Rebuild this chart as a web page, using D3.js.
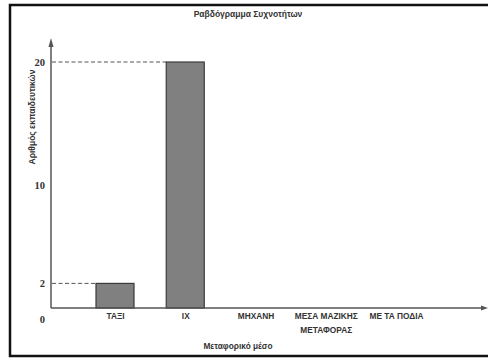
<!DOCTYPE html>
<html><head><meta charset="utf-8">
<script src="https://cdn.jsdelivr.net/npm/d3@7"></script>
<style>body{margin:0;background:#fff}svg{display:block}</style>
</head><body>
<svg id="c" width="488" height="360"></svg>
<script>
const categories = ["ΤΑΞΙ", "ΙΧ", "ΜΗΧΑΝΗ", "ΜΕΣΑ ΜΑΖΙΚΗΣ|ΜΕΤΑΦΟΡΑΣ", "ΜΕ ΤΑ ΠΟΔΙΑ"];
const values = [2, 20, 0, 0, 0];
const yTicks = [0, 2, 10, 20];
const title = "Ραβδόγραμμα Συχνοτήτων";
const xTitle = "Μεταφορικό μέσο";
const yTitle = "Αριθμός εκπαιδευτικών";

const svg = d3.select("#c");
const sans = "'Liberation Sans', Arial, sans-serif";
const serif = "'Liberation Serif', 'DejaVu Serif', serif";

// frame
svg.append("rect").attr("x", 10).attr("y", 5).attr("width", 500).attr("height", 351)
  .attr("fill", "none").attr("stroke", "#111").attr("stroke-width", 2.5);

const x0 = 51, yBase = 308;
const x = d3.scalePoint().domain(categories).range([115, 396]);
const y = d3.scaleLinear().domain([0, 20]).range([yBase, 62]);
const barW = 38;

// title
svg.append("text").attr("x", 248).attr("y", 17).attr("text-anchor", "middle")
  .attr("font-family", sans).attr("font-size", 8.5).attr("font-weight", "bold").attr("fill", "#333")
  .text(title);

// dashed guides
categories.forEach((c, i) => {
  if (values[i] > 0) {
    svg.append("line").attr("x1", x0 + 1).attr("x2", x(c) - barW / 2)
      .attr("y1", y(values[i])).attr("y2", y(values[i]))
      .attr("stroke", "#555").attr("stroke-width", 1).attr("stroke-dasharray", "4,2.5");
  }
});

// bars
svg.selectAll("rect.bar").data(categories.map((c, i) => ({c, v: values[i]})).filter(d => d.v > 0))
  .enter().append("rect").attr("class", "bar")
  .attr("x", d => x(d.c) - barW / 2).attr("width", barW)
  .attr("y", d => y(d.v)).attr("height", d => yBase - y(d.v))
  .attr("fill", "#808080").attr("stroke", "#3a3a3a").attr("stroke-width", 1.2);

// axes lines with arrows
svg.append("line").attr("x1", x0).attr("x2", x0).attr("y1", yBase).attr("y2", 44)
  .attr("stroke", "#555").attr("stroke-width", 1.5);
svg.append("path").attr("d", `M${x0},38 L${x0 - 2.5},47 L${x0 + 2.5},47 Z`).attr("fill", "#555");
svg.append("line").attr("x1", x0).attr("x2", 484).attr("y1", yBase).attr("y2", yBase)
  .attr("stroke", "#555").attr("stroke-width", 1.5);
svg.append("path").attr("d", `M488,${yBase} L481,${yBase - 2.5} L481,${yBase + 2.5} Z`).attr("fill", "#555");

// y ticks labels
const yAxis = d3.axisLeft(y).tickValues(yTicks).tickSize(0).tickPadding(6).tickFormat(d3.format("d"));
const ga = svg.append("g").attr("transform", `translate(${x0},0)`).call(yAxis);
ga.select(".domain").remove();
ga.selectAll("text").attr("font-family", serif).attr("font-weight", "bold").attr("font-size", 10.5)
  .attr("fill", "#333").attr("dy", d => d === 0 ? "1.35em" : "0.32em");

// x labels
const xAxis = d3.axisBottom(x).tickSize(0).tickPadding(0);
const gx = svg.append("g").attr("transform", `translate(0,${yBase})`).call(xAxis);
gx.select(".domain").remove();
gx.selectAll("text").each(function(d) {
  const t = d3.select(this);
  const parts = d.split("|");
  t.text(null).attr("font-family", sans).attr("font-size", 8.3).attr("font-weight", "bold")
    .attr("fill", "#333").attr("y", 0).attr("dy", null);
  parts.forEach((p, k) => {
    t.append("tspan").attr("x", 0).attr("y", 11 + k * 13.5).text(p);
  });
});

// axis titles
svg.append("text").attr("x", 238).attr("y", 349).attr("text-anchor", "middle")
  .attr("font-family", sans).attr("font-size", 8.3).attr("font-weight", "bold").attr("fill", "#333")
  .text(xTitle);
svg.append("text").attr("transform", "translate(35,117) rotate(-90)").attr("text-anchor", "middle")
  .attr("font-family", sans).attr("font-size", 8.5).attr("font-weight", "bold").attr("fill", "#333")
  .text(yTitle);
</script>
</body></html>
